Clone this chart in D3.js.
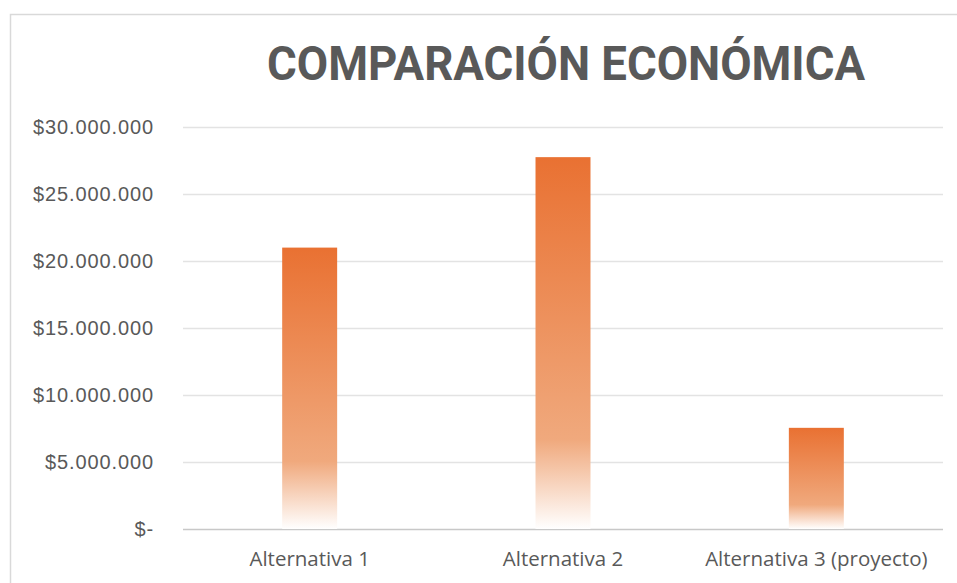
<!DOCTYPE html>
<html><head><meta charset="utf-8">
<script src="https://cdn.jsdelivr.net/npm/d3@7"></script>
<style>html,body{margin:0;padding:0;background:#fff;}svg{display:block;}</style>
</head><body>
<svg id="chart" width="957" height="583"></svg>
<script>
const categories = ["Alternativa 1", "Alternativa 2", "Alternativa 3 (proyecto)"];
const values = [21000000, 27750000, 7550000];
const yTicks = [0, 5000000, 10000000, 15000000, 20000000, 25000000, 30000000];
const title = "COMPARACIÓN ECONÓMICA";

const svg = d3.select("#chart");
const W = 957, H = 583;
const m = {left: 183, right: 14, top: 127, bottom: 54};
const x = d3.scaleBand().domain(categories).range([m.left, W - m.right]).paddingInner(0.783).paddingOuter(0.3915);
const y = d3.scaleLinear().domain([0, 30000000]).range([H - m.bottom, m.top]);

const loc = d3.formatLocale({decimal: ",", thousands: ".", grouping: [3], currency: ["$", ""]});
const fmt = v => v === 0 ? "$-" : loc.format("$,")(v);

// frame
svg.append("path").attr("d", `M10.5,${H} V14.5 H${W}`).attr("fill", "none").attr("stroke", "#d9d9d9").attr("stroke-width", 1.5);

// gradient
const defs = svg.append("defs");
const g = defs.append("linearGradient").attr("id", "barGrad").attr("x1", 0).attr("y1", 0).attr("x2", 0).attr("y2", 1);
g.append("stop").attr("offset", "0%").attr("stop-color", "#e97132");
g.append("stop").attr("offset", "76%").attr("stop-color", "#f0a97d");
g.append("stop").attr("offset", "100%").attr("stop-color", "#ffffff");

// grid
const yAxis = d3.axisLeft(y).tickValues(yTicks).tickFormat(fmt).tickSize(0).tickPadding(29);
const ga = svg.append("g").attr("transform", `translate(${m.left},0)`).call(yAxis);
ga.select(".domain").remove();
ga.selectAll("text").attr("font-family", "Liberation Sans, Arial, sans-serif").attr("font-size", 20).attr("letter-spacing", "0.9px").attr("fill", "#595959");

svg.append("g").selectAll("line").data(yTicks).join("line")
  .attr("x1", m.left).attr("x2", W - m.right)
  .attr("y1", d => Math.round(y(d)) + 0.5).attr("y2", d => Math.round(y(d)) + 0.5)
  .attr("stroke", d => d === 0 ? "#c8c8c8" : "#e3e3e3").attr("stroke-width", 1.5);

// bars
svg.append("g").selectAll("rect").data(values).join("rect")
  .attr("x", (d, i) => x(categories[i])).attr("width", x.bandwidth())
  .attr("y", d => y(d)).attr("height", d => y(0) - y(d))
  .attr("fill", "url(#barGrad)");

// x axis labels
const xAxis = d3.axisBottom(x).tickSize(0).tickPadding(22);
const gx = svg.append("g").attr("transform", `translate(0,${y(0)})`).call(xAxis);
gx.select(".domain").remove();
gx.selectAll("text").attr("font-family", "Open Sans, sans-serif").attr("font-size", 20.5).attr("fill", "#595959");

// title
svg.append("text").attr("x", 566).attr("y", 80).attr("text-anchor", "middle")
  .attr("font-family", "Roboto, sans-serif").attr("font-weight", "bold").attr("font-size", 48)
  .attr("fill", "#595959").attr("textLength", 598).attr("lengthAdjust", "spacingAndGlyphs")
  .text(title);
</script>
</body></html>
